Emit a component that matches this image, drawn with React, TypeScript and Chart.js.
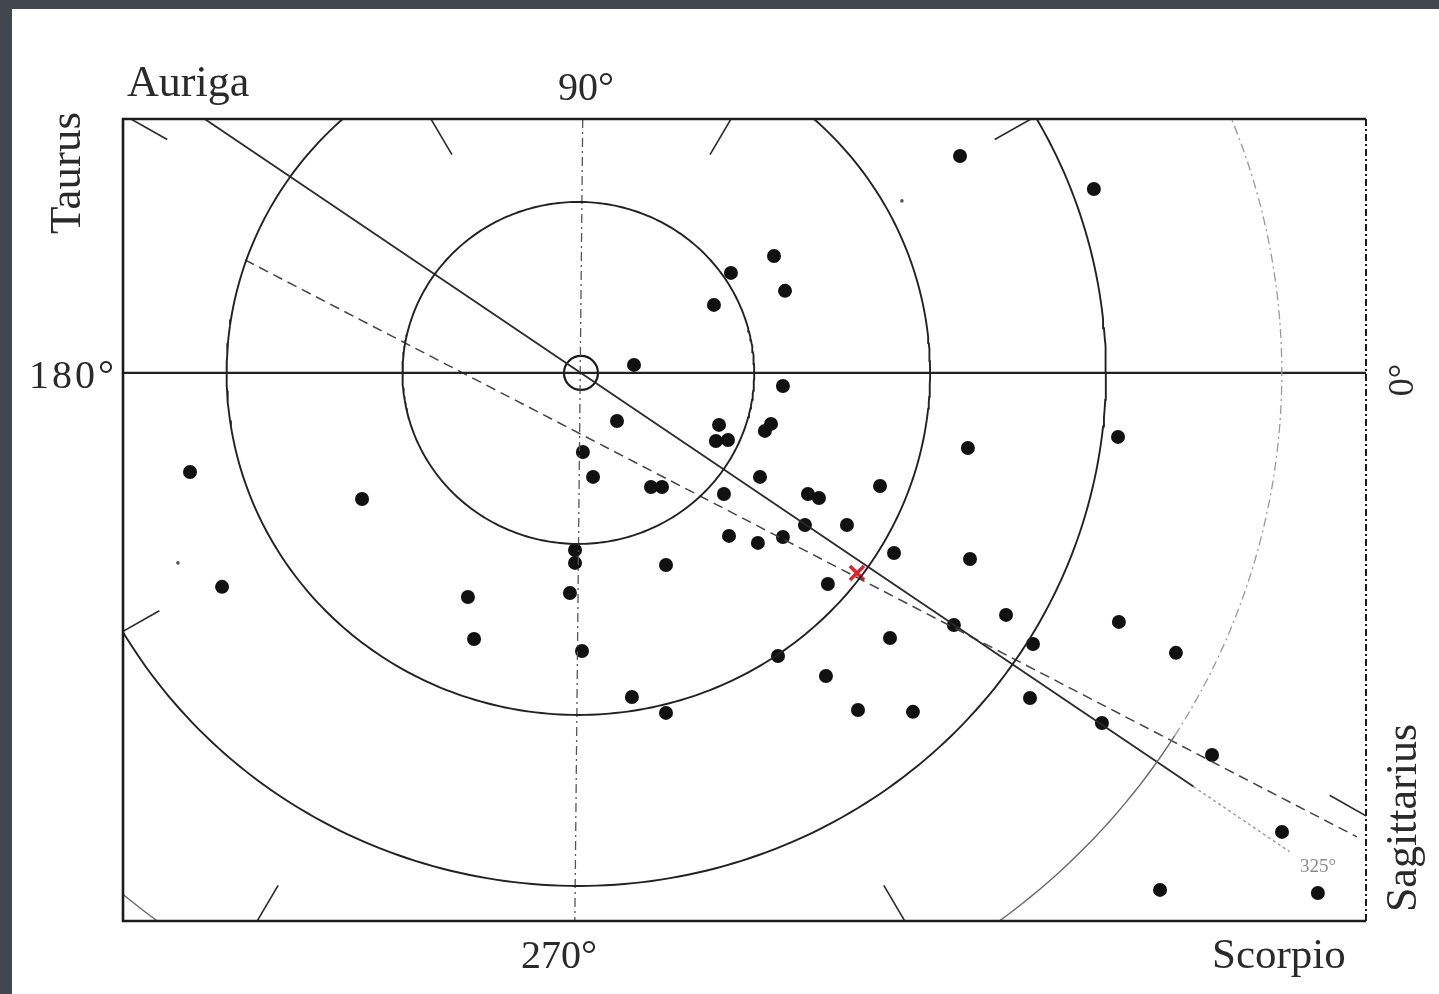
import React, { useEffect, useRef } from "react";
import { Chart, registerables } from "chart.js";

Chart.register(...registerables);

// ---- data (units: thousands of parsecs, projected on the galactic plane) ----
const clusterX = [
  21.66, 29.31, 11.03, 8.57, 11.66, 7.6, 3.03, 11.54, 2.06, 7.89, 10.51, 10.86,
  7.71, 8.4, 0.11, 0.69, 4.0, 4.63, 10.23, 8.17, 12.97, 13.6, 17.09, 22.11, 30.69,
  -22.34, -12.51, 12.8, 15.2, 8.46, 10.11, 11.54, -0.34, -0.34, 4.86, 14.11,
  17.89, 22.23, -20.51, -0.63, -6.46, -6.11, 0.06, 11.26, 17.66, 21.31, 24.29,
  25.83, 30.74, 34.0, 14.0, 2.91, 4.86, 15.83, 18.97, 25.66, 29.77, 36.06,
  40.06, 33.09, 42.11,
];
const clusterY = [
  12.69, 10.76, 6.84, 5.85, 4.8, 3.98, 0.47, -0.76, -2.81, -3.04, -3.39, -2.98,
  -3.98, -3.92, -4.62, -6.08, -6.67, -6.67, -6.08, -7.08, -7.08, -7.31, -6.61,
  -4.39, -3.74, -5.79, -7.37, -8.89, -8.89, -9.53, -9.94, -9.59, -10.35,
  -11.11, -11.23, -12.34, -10.53, -10.88, -12.51, -12.87, -13.1, -15.56,
  -16.26, -16.55, -15.5, -14.74, -14.15, -15.85, -14.56, -16.37, -17.72,
  -18.95, -19.88, -19.71, -19.82, -19.01, -20.47, -22.34, -26.84, -30.23,
  -30.41,
];
const faintX = [18.34, -23.03];
const faintY = [10.06, -11.11];

const centreX = [15.77];
const centreY = [-11.7];

const circleRadii = [10, 20, 30];
const outerRadius = 40;
const tickAngles = [30, 60, 120, 150, 210, 240, 300, 330];

const planeX = [-21.5, 35.0, 40.5];
const planeY = [14.85, -24.19, -28.0];
const dashX = [-19.2, 44.34];
const dashY = [6.61, -27.13];
const meridianX = [0.1, -0.35];
const meridianY = [14.85, -32.05];

const xMin = -26.17;
const xMax = 44.86;
const yMin = -32.05;
const yMax = 14.85;

const FONT = '"Liberation Serif", "DejaVu Serif", serif';

function arc(r: number, a0: number, a1: number) {
  const pts: { x: number; y: number }[] = [];
  for (let a = a0; a <= a1 + 1e-9; a += 1) {
    const t = (a * Math.PI) / 180;
    pts.push({ x: -0.15 + r * 1.005 * Math.cos(t), y: r * Math.sin(t) });
  }
  return pts;
}

function tick(angle: number) {
  const t = (angle * Math.PI) / 180;
  const dx = Math.cos(t);
  const dy = Math.sin(t);
  const tx = dx > 1e-9 ? xMax / dx : dx < -1e-9 ? xMin / dx : Infinity;
  const ty = dy > 1e-9 ? yMax / dy : dy < -1e-9 ? yMin / dy : Infinity;
  const r = Math.min(tx, ty);
  return [
    { x: (r - 2.4) * dx, y: (r - 2.4) * dy },
    { x: (r + 0.3) * dx, y: (r + 0.3) * dy },
  ];
}

const zip = (xs: number[], ys: number[]) => xs.map((x, i) => ({ x, y: ys[i] }));

const backgroundPlugin = {
  id: "paper",
  beforeDraw(chart: any) {
    const { ctx, width, height } = chart;
    ctx.save();
    ctx.fillStyle = "#42464f";
    ctx.fillRect(0, 0, width, height);
    ctx.fillStyle = "#ffffff";
    ctx.fillRect(12, 9, width - 12, height - 9);
    ctx.restore();
  },
};

const framePlugin = {
  id: "frame",
  afterDatasetsDraw(chart: any) {
    const { ctx, chartArea: a } = chart;
    ctx.save();
    ctx.strokeStyle = "#1c1c1c";
    ctx.lineWidth = 2.6;
    ctx.beginPath();
    ctx.moveTo(a.right, a.top);
    ctx.lineTo(a.left, a.top);
    ctx.lineTo(a.left, a.bottom);
    ctx.lineTo(a.right, a.bottom);
    ctx.stroke();
    ctx.lineWidth = 2;
    ctx.setLineDash([7, 3, 2, 3]);
    ctx.beginPath();
    ctx.moveTo(a.right, a.top);
    ctx.lineTo(a.right, a.bottom);
    ctx.stroke();
    ctx.restore();
  },
};

const labelTexts = {
  auriga: "Auriga",
  taurus: "Taurus",
  top: "90°",
  left: "180°",
  right: "0°",
  bottom: "270°",
  scorpio: "Scorpio",
  sagittarius: "Sagittarius",
  plane: "325°",
};

const labelsPlugin = {
  id: "labels",
  afterDraw(chart: any) {
    const { ctx } = chart;
    ctx.save();
    ctx.fillStyle = "#2a2a2a";
    ctx.textBaseline = "alphabetic";

    ctx.font = `44px ${FONT}`;
    ctx.textAlign = "left";
    ctx.fillText(labelTexts.auriga, 127, 96);

    ctx.font = `40px ${FONT}`;
    ctx.textAlign = "center";
    ctx.fillText(labelTexts.top, 586, 100);
    ctx.fillText(labelTexts.bottom, 559, 968);
    ctx.textAlign = "left";
    (ctx as any).letterSpacing = "3px";
    ctx.fillText(labelTexts.left, 29, 388);
    (ctx as any).letterSpacing = "0px";

    ctx.font = `43px ${FONT}`;
    ctx.fillText(labelTexts.scorpio, 1212, 968);

    const vertical = (text: string, cx: number, cy: number, size: number) => {
      ctx.save();
      ctx.translate(cx, cy);
      ctx.rotate(-Math.PI / 2);
      ctx.font = `${size}px ${FONT}`;
      ctx.textAlign = "center";
      ctx.textBaseline = "middle";
      ctx.fillText(text, 0, 0);
      ctx.restore();
    };
    vertical(labelTexts.taurus, 68, 173, 45);
    vertical(labelTexts.sagittarius, 1404, 818, 44);
    vertical(labelTexts.right, 1404, 380, 36);

    ctx.font = `19px ${FONT}`;
    ctx.fillStyle = "#8a8a8a";
    ctx.textAlign = "left";
    ctx.textBaseline = "alphabetic";
    ctx.fillText(labelTexts.plane, 1300, 872);
    ctx.restore();
  },
};

export default function App() {
  const canvasRef = useRef<HTMLCanvasElement | null>(null);

  useEffect(() => {
    if (!canvasRef.current) return;
    const line = (data: any[], color: string, width: number, dash: number[] = []) => ({
      type: "line" as const,
      data,
      borderColor: color,
      borderWidth: width,
      borderDash: dash,
      pointRadius: 0,
      fill: false,
      tension: 0,
      showLine: true,
    });

    const datasets: any[] = [];
    circleRadii.forEach((r) => datasets.push(line(arc(r, 0, 360), "#222222", 1.9)));
    datasets.push(line(arc(outerRadius, -32, 180), "#9a9a9a", 1.3, [9, 4, 2, 4]));
    datasets.push(line(arc(outerRadius, 180, 328), "#666666", 1.4));
    tickAngles.forEach((a) => datasets.push(line(tick(a), "#2a2a2a", 1.6)));
    datasets.push(line(zip([xMin, xMax], [0, 0]), "#222222", 2.3));
    datasets.push(line(zip(meridianX, meridianY), "#555555", 1.3, [9, 4, 2, 4]));
    datasets.push(line(zip(planeX.slice(0, 2), planeY.slice(0, 2)), "#2a2a2a", 1.8));
    datasets.push(line(zip(planeX.slice(1), planeY.slice(1)), "#9a9a9a", 1.4, [3, 3]));
    datasets.push(line(zip(dashX, dashY), "#444444", 1.5, [10, 6]));
    datasets.push({
      type: "scatter",
      data: zip(clusterX, clusterY),
      backgroundColor: "#111111",
      borderColor: "#111111",
      borderWidth: 0,
      pointRadius: 7,
    });
    datasets.push({
      type: "scatter",
      data: zip(faintX, faintY),
      backgroundColor: "#555555",
      borderWidth: 0,
      pointRadius: 1.8,
    });
    datasets.push({
      type: "scatter",
      data: [{ x: 0, y: 0 }],
      backgroundColor: "rgba(0,0,0,0)",
      borderColor: "#1a1a1a",
      borderWidth: 2.2,
      pointRadius: 17,
    });
    datasets.push({
      type: "scatter",
      data: zip(centreX, centreY),
      pointStyle: "crossRot",
      borderColor: "#e0242a",
      borderWidth: 3.5,
      pointRadius: 10,
    });

    const chart = new Chart(canvasRef.current, {
      type: "scatter",
      data: { datasets },
      options: {
        animation: false,
        responsive: true,
        maintainAspectRatio: false,
        devicePixelRatio: 1,
        layout: { padding: { left: 123, top: 119, right: 73, bottom: 73 } },
        plugins: {
          legend: { display: false },
          tooltip: { enabled: false },
          title: { display: false },
        },
        scales: {
          x: { type: "linear", min: xMin, max: xMax, display: false },
          y: { type: "linear", min: yMin, max: yMax, display: false },
        },
        events: [],
      },
      plugins: [backgroundPlugin, framePlugin, labelsPlugin],
    } as any);
    return () => chart.destroy();
  }, []);

  return (
    <div style={{ position: "absolute", left: 0, top: 0, width: 1439, height: 994 }}>
      <canvas ref={canvasRef} />
    </div>
  );
}
